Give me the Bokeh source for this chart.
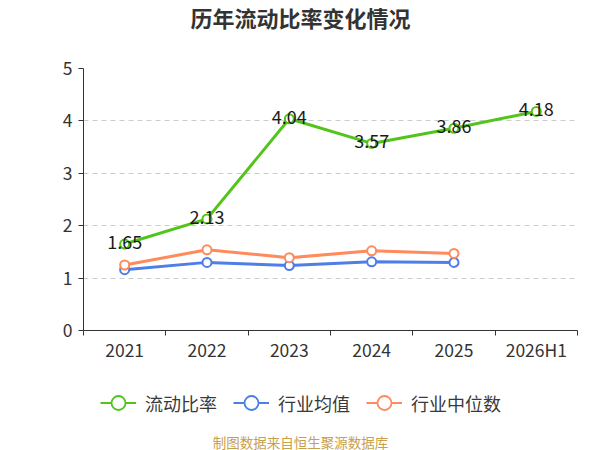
from bokeh.plotting import figure
from bokeh.layouts import column
from bokeh.models import FixedTicker, Legend, LegendItem, Label, ColumnDataSource, Range1d
from bokeh.embed import file_html
from bokeh.resources import INLINE
from bokeh.core.properties import value

title_text = "历年流动比率变化情况"
footer_text = "制图数据来自恒生聚源数据库"
categories = ["2021", "2022", "2023", "2024", "2025", "2026H1"]
current_ratio = [1.65, 2.13, 4.04, 3.57, 3.86, 4.18]
industry_avg = [1.16, 1.30, 1.24, 1.31, 1.30]
industry_median = [1.25, 1.54, 1.39, 1.52, 1.47]
series_names = ["流动比率", "行业均值", "行业中位数"]
colors = ["#52c41a", "#4e7ee8", "#ff8a5c"]
y_ticks = [0, 1, 2, 3, 4, 5]

FONT = "Noto Sans CJK SC"
W = 600
LEFT, FW = 83, 494
RIGHT = W - LEFT - FW


def blank_fig(h):
    # frame spans the same horizontal extent as the chart; data units = page pixels
    f = figure(width=W, height=h, output_backend="svg", toolbar_location=None,
               x_range=Range1d(LEFT, LEFT + FW), y_range=Range1d(0, h),
               x_axis_type=None, y_axis_type=None,
               frame_width=FW, frame_height=h,
               min_border_left=LEFT, min_border_right=RIGHT,
               min_border_top=0, min_border_bottom=0)
    f.outline_line_color = None
    f.xgrid.visible = False
    f.ygrid.visible = False
    return f


# --- title strip ---
ft = blank_fig(38)
ft.add_layout(Label(x=300, y=22, text=title_text, text_align="center", text_baseline="middle",
                    text_font=FONT, text_font_size="22px", text_font_style="bold",
                    text_color="#333333"))

# --- main chart ---
xs = [i + 0.5 for i in range(len(categories))]
p = figure(width=W, height=342, output_backend="svg", toolbar_location=None,
           x_range=Range1d(0, len(categories)), y_range=Range1d(0, 5),
           frame_width=FW, frame_height=262,
           min_border_left=LEFT, min_border_right=RIGHT, min_border_top=30, min_border_bottom=50)
p.outline_line_color = None

p.xaxis.ticker = FixedTicker(ticks=xs, minor_ticks=list(range(len(categories) + 1)))
p.xaxis.major_label_overrides = {x: c for x, c in zip(xs, categories)}
p.xaxis.major_tick_out = 0
p.xaxis.major_tick_in = 0
p.xaxis.minor_tick_out = 5
p.xaxis.minor_tick_in = 0
p.xaxis.minor_tick_line_color = "#333333"
p.xaxis.axis_line_color = "#333333"
p.xaxis.major_label_text_font = FONT
p.xaxis.major_label_text_font_size = "17.5px"
p.xaxis.major_label_text_color = "#333333"
p.xaxis.major_label_standoff = 1
p.xgrid.visible = False

p.yaxis.ticker = FixedTicker(ticks=y_ticks)
p.yaxis.minor_tick_line_color = None
p.yaxis.major_tick_out = 5
p.yaxis.major_tick_in = 0
p.yaxis.axis_line_color = "#333333"
p.yaxis.major_tick_line_color = "#333333"
p.yaxis.major_label_text_font = FONT
p.yaxis.major_label_text_font_size = "17.5px"
p.yaxis.major_label_text_color = "#333333"
p.yaxis.major_label_standoff = 6
p.ygrid.grid_line_color = "#cccccc"
p.ygrid.grid_line_dash = "5 4"
p.ygrid.grid_line_width = 1

for vals, color in zip([current_ratio, industry_avg, industry_median], colors):
    src = ColumnDataSource(dict(x=xs[:len(vals)], y=vals))
    p.line("x", "y", source=src, line_color=color, line_width=3)
    p.scatter("x", "y", source=src, size=9, marker="circle", fill_color="white",
              line_color=color, line_width=2)

lab_src = ColumnDataSource(dict(x=xs, y=current_ratio, t=[f"{v:.2f}" for v in current_ratio]))
p.text("x", "y", text="t", source=lab_src, text_align="center", text_baseline="middle",
       y_offset=-2, text_font=value(FONT), text_font_size="18px", text_color="#1a1a1a")

# --- legend + footer strip ---
fb = blank_fig(70)
items = []
nan = float("nan")
for name, color in zip(series_names, colors):
    dummy = ColumnDataSource(dict(x=[nan], y=[nan]))
    l = fb.line("x", "y", source=dummy, line_color=color, line_width=2)
    c = fb.scatter("x", "y", source=dummy, size=14, marker="circle", fill_color="white",
                   line_color=color, line_width=1.8)
    items.append(LegendItem(label=name, renderers=[l, c]))
legend = Legend(items=items, orientation="horizontal", location=(100 - LEFT, 30),
                label_text_font=FONT, label_text_font_size="18px", label_text_color="#3a3a3a",
                glyph_width=36, glyph_height=35, label_height=20, spacing=16,
                padding=0, margin=0, border_line_color=None, background_fill_alpha=0,
                label_standoff=9)
fb.add_layout(legend, "center")
fb.add_layout(Label(x=300, y=9, text=footer_text, text_align="center", text_baseline="middle",
                    text_font=FONT, text_font_size="13.5px", text_color="#c9a04a"))

layout = column(ft, p, fb, spacing=0)
open("out.html", "w").write(file_html(layout, INLINE))
